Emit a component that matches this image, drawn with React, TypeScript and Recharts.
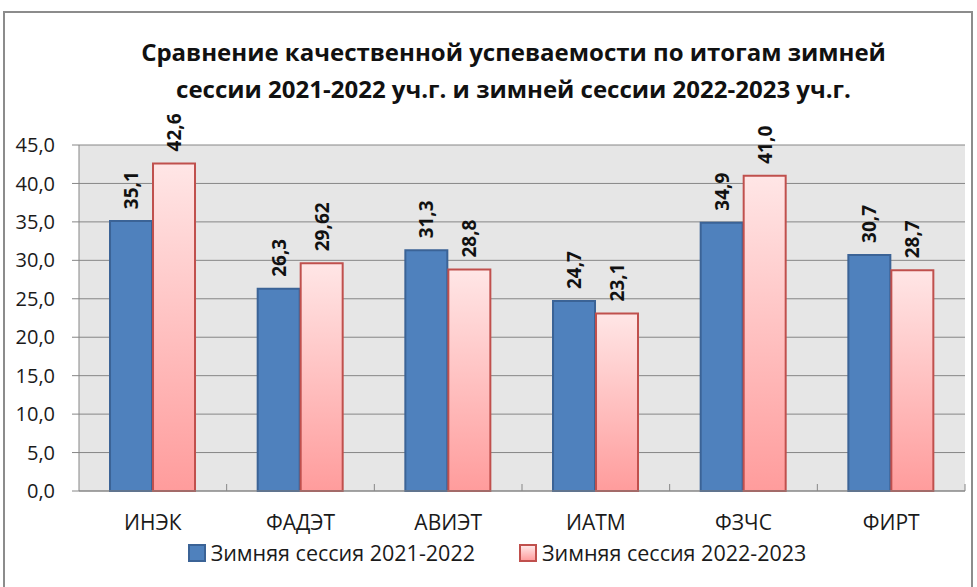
import React from 'react'
import { BarChart, Bar, XAxis, YAxis, CartesianGrid, LabelList, Legend } from 'recharts'

const categories = ['ИНЭК', 'ФАДЭТ', 'АВИЭТ', 'ИАТМ', 'ФЗЧС', 'ФИРТ']
const winter2122 = [35.1, 26.3, 31.3, 24.7, 34.9, 30.7]
const winter2223 = [42.6, 29.62, 28.8, 23.1, 41.0, 28.7]
const yTicks = [0, 5, 10, 15, 20, 25, 30, 35, 40, 45]
const seriesNames = ['Зимняя сессия 2021-2022', 'Зимняя сессия 2022-2023']
const titleLines = [
  'Сравнение качественной успеваемости по итогам зимней',
  'сессии 2021-2022 уч.г. и зимней сессии 2022-2023 уч.г.'
]

const W = 977
const H = 587
const MARGIN = { top: 145, right: 12, bottom: 6, left: 19 }
const Y_AXIS_W = 60
const X_AXIS_H = 50
const FONT = '"Open Sans", "Noto Sans", sans-serif'
const GRID = '#868686'

const data = categories.map((name, i) => ({
  name,
  s1: winter2122[i],
  s2: winter2223[i]
}))

// one decimal unless the value has two (29,62)
const fmt = (v: number) => {
  const s = Math.round(v * 100) % 10 !== 0 ? v.toFixed(2) : v.toFixed(1)
  return s.replace('.', ',')
}

const band = (W - MARGIN.left - Y_AXIS_W - MARGIN.right) / categories.length

const XTick = (props: any) => {
  const { x, y, payload } = props
  const axisY = y - 24
  return (
    <g>
      <line x1={x + band / 2} x2={x + band / 2} y1={axisY} y2={axisY - 7} stroke={GRID} />
      <text x={x} y={y} dy="0.71em" textAnchor="middle" fill="#1a1a1a" fontSize={21} fontFamily={FONT}>
        {payload.value}
      </text>
    </g>
  )
}

const ValueLabel = (props: any) => {
  const { x, y, width, value } = props
  const cx = x + width / 2
  const ty = y - 12
  return (
    <text
      x={cx}
      y={ty}
      transform={`rotate(-90 ${cx} ${ty})`}
      textAnchor="start"
      dominantBaseline="central"
      fontSize={19}
      fontWeight="bold"
      fontFamily={FONT}
      fill="#111"
    >
      {fmt(value)}
    </text>
  )
}

const LegendContent = () => (
  <div
    style={{
      display: 'flex',
      justifyContent: 'center',
      gap: 44,
      paddingLeft: 10,
      fontFamily: FONT,
      fontSize: 21.5,
      color: '#1a1a1a',
      lineHeight: '24px'
    }}
  >
    {seriesNames.map((n, i) => (
      <div key={n} style={{ display: 'flex', alignItems: 'center', gap: 5 }}>
        <span
          style={{
            display: 'inline-block',
            width: 14,
            height: 14,
            border: `2px solid ${i === 0 ? '#3b6396' : '#c0504d'}`,
            background: i === 0 ? '#4f81bd' : 'linear-gradient(#ffe6e6, #ff9f9f)'
          }}
        />
        <span>{n}</span>
      </div>
    ))}
  </div>
)

export default function App() {
  return (
    <div style={{ position: 'fixed', left: 0, top: 0, width: W, height: H, overflow: 'hidden', background: '#fff' }}>
      <div
        style={{
          position: 'absolute',
          left: 3,
          top: 11,
          width: 970,
          height: 600,
          border: '2px solid #8c8c8c',
          boxSizing: 'border-box'
        }}
      />
      <div
        style={{
          position: 'absolute',
          left: 0,
          top: 33,
          width: W,
          textAlign: 'center',
          fontFamily: FONT,
          fontWeight: 'bold',
          fontSize: 24,
          lineHeight: '37px',
          color: '#111',
          paddingLeft: 50,
          boxSizing: 'border-box'
        }}
      >
        {titleLines.map(t => (
          <div key={t}>{t}</div>
        ))}
      </div>
      <div style={{ position: 'absolute', left: 0, top: 0 }}>
        <BarChart width={W} height={H} data={data} margin={MARGIN} barCategoryGap="21%" barGap={1}>
          <defs>
            <linearGradient id="pinkGrad" x1="0" y1="0" x2="0" y2="1">
              <stop offset="0%" stopColor="#ffe6e6" />
              <stop offset="100%" stopColor="#ff9c9c" />
            </linearGradient>
          </defs>
          <CartesianGrid vertical={false} stroke={GRID} fill="#e6e6e6" fillOpacity={1} />
          <XAxis
            dataKey="name"
            height={X_AXIS_H}
            stroke={GRID}
            tickLine={false}
            tickSize={0}
            tickMargin={24}
            tick={<XTick />}
            interval={0}
          />
          <YAxis
            width={Y_AXIS_W}
            domain={[0, 45]}
            ticks={yTicks}
            interval={0}
            stroke={GRID}
            tickSize={7}
            tickMargin={17}
            tickFormatter={(v: number) => v.toFixed(1).replace('.', ',')}
            tick={{ fill: '#1a1a1a', fontSize: 20, fontFamily: FONT }}
          />
          <Legend verticalAlign="bottom" height={40} content={<LegendContent />} />
          <Bar dataKey="s1" name={seriesNames[0]} fill="#4f81bd" stroke="#3b6396" strokeWidth={2} isAnimationActive={false}>
            <LabelList dataKey="s1" content={<ValueLabel />} />
          </Bar>
          <Bar dataKey="s2" name={seriesNames[1]} fill="url(#pinkGrad)" stroke="#c0504d" strokeWidth={2} isAnimationActive={false}>
            <LabelList dataKey="s2" content={<ValueLabel />} />
          </Bar>
        </BarChart>
      </div>
    </div>
  )
}
